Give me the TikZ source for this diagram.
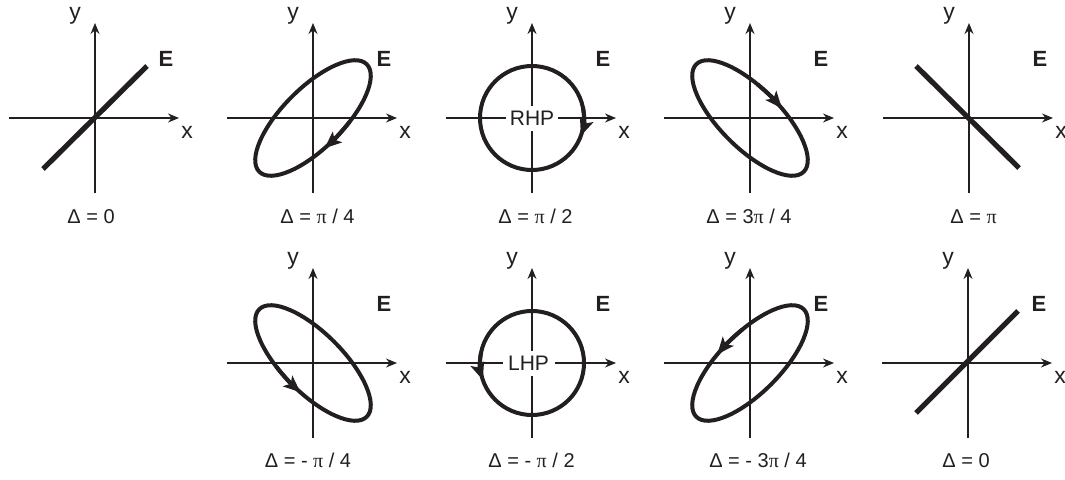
\documentclass[tikz,border=0pt]{standalone}
\usepackage{fontspec}
\setmainfont{Liberation Sans}
\newfontfamily\grk{Liberation Serif}
\usetikzlibrary{arrows.meta}
\definecolor{ink}{RGB}{35,31,32}
\newcommand\drawaxes[1]{%
  \draw[axis] (-86,0) -- (84,0);
  \draw[axis] (0,-75) -- (0,95);
  \node[axlabel] (#1y) at (-20,98.5) {y};
  \node[axlabel] (#1x) at (92,-20) {x};
  \node[elabel] (#1E) at (71,52) {E};
}
\begin{document}
\begin{tikzpicture}[x=1pt,y=1pt,
  axis/.style={draw=ink, line width=1.4pt, -{Stealth[length=11pt,width=9pt]}},
  field/.style={draw=ink, line width=5.2pt},
  pol/.style={draw=ink, line width=4pt},
  polarrow/.style={draw=ink, line width=4pt, -{Stealth[length=17pt,width=14pt,inset=4pt]}},
  axlabel/.style={font=\fontsize{23}{23}\selectfont, text=ink, anchor=base, inner sep=0pt},
  elabel/.style={font=\fontsize{22}{22}\selectfont\bfseries, text=ink, anchor=base, inner sep=0pt},
  dlabel/.style={font=\fontsize{20}{20}\selectfont, text=ink, anchor=base, inner sep=0pt},
  hand/.style={font=\fontsize{21}{21}\selectfont, text=ink, fill=white, inner sep=0pt, minimum width=52pt, minimum height=25pt},
]
\useasboundingbox[fill=white] (0,0) rectangle (1065,-479);

% ---------- top row ----------
\begin{scope}[shift={(95,-118)}]
  \drawaxes{a}
  \draw[field] (-52,-51) -- (52,52);
  \node[dlabel] (la) at (-4,-105) {Δ = 0};
\end{scope}

\begin{scope}[shift={(313,-118)}]
  \drawaxes{b}
  \draw[pol, rotate=45] (0,0) ellipse [x radius=76, y radius=30];
  \draw[polarrow, rotate=45] (-72:76 and 30) arc[start angle=-72, end angle=-100, x radius=76, y radius=30];
  \node[dlabel] (lb) at (4.5,-105) {Δ = {\grk π} / 4};
\end{scope}

\begin{scope}[shift={(532,-118)}]
  \drawaxes{c}
  \draw[pol] (0,0) circle[radius=52];
  \draw[polarrow] (12:52) arc[start angle=12, end angle=-20, radius=52];
  \node[hand] (rhp) at (0,0) {RHP};
  \node[dlabel] (lc) at (3.5,-105) {Δ = {\grk π} / 2};
\end{scope}

\begin{scope}[shift={(750,-118)}]
  \drawaxes{d}
  \draw[pol, rotate=-45] (0,0) ellipse [x radius=76, y radius=30];
  \draw[polarrow, rotate=-45] (104:76 and 30) arc[start angle=104, end angle=78, x radius=76, y radius=30];
  \node[dlabel] (ld) at (-1,-105) {Δ = 3{\grk π} / 4};
\end{scope}

\begin{scope}[shift={(969,-118)}]
  \drawaxes{e}
  \draw[field] (-53,52) -- (50,-50);
  \node[dlabel] (le) at (4.5,-105) {Δ = {\grk π}};
\end{scope}

% ---------- bottom row ----------
\begin{scope}[shift={(313,-363)}]
  \drawaxes{f}
  \draw[pol, rotate=-45] (0,0) ellipse [x radius=76, y radius=30];
  \draw[polarrow, rotate=-45] (-108:76 and 30) arc[start angle=-108, end angle=-81, x radius=76, y radius=30];
  \node[dlabel] (lf) at (-5,-104) {Δ = - {\grk π} / 4};
\end{scope}

\begin{scope}[shift={(532,-363)}]
  \drawaxes{g}
  \draw[pol] (0,0) circle[radius=52];
  \draw[polarrow] (168:52) arc[start angle=168, end angle=199, radius=52];
  \node[hand] (lhp) at (-3.5,0) {LHP};
  \node[dlabel] (lg) at (-0.5,-104) {Δ = - {\grk π} / 2};
\end{scope}

\begin{scope}[shift={(750,-363)}]
  \drawaxes{h}
  \draw[pol, rotate=45] (0,0) ellipse [x radius=76, y radius=30];
  \draw[polarrow, rotate=45] (76:76 and 30) arc[start angle=76, end angle=103, x radius=76, y radius=30];
  \node[dlabel] (lh) at (8,-104) {Δ = - 3{\grk π} / 4};
\end{scope}

\begin{scope}[shift={(968,-363)}]
  \drawaxes{i}
  \draw[field] (-52,-50) -- (50,52);
  \node[dlabel] (li) at (-2,-104) {Δ = 0};
\end{scope}
\end{tikzpicture}
\end{document}
